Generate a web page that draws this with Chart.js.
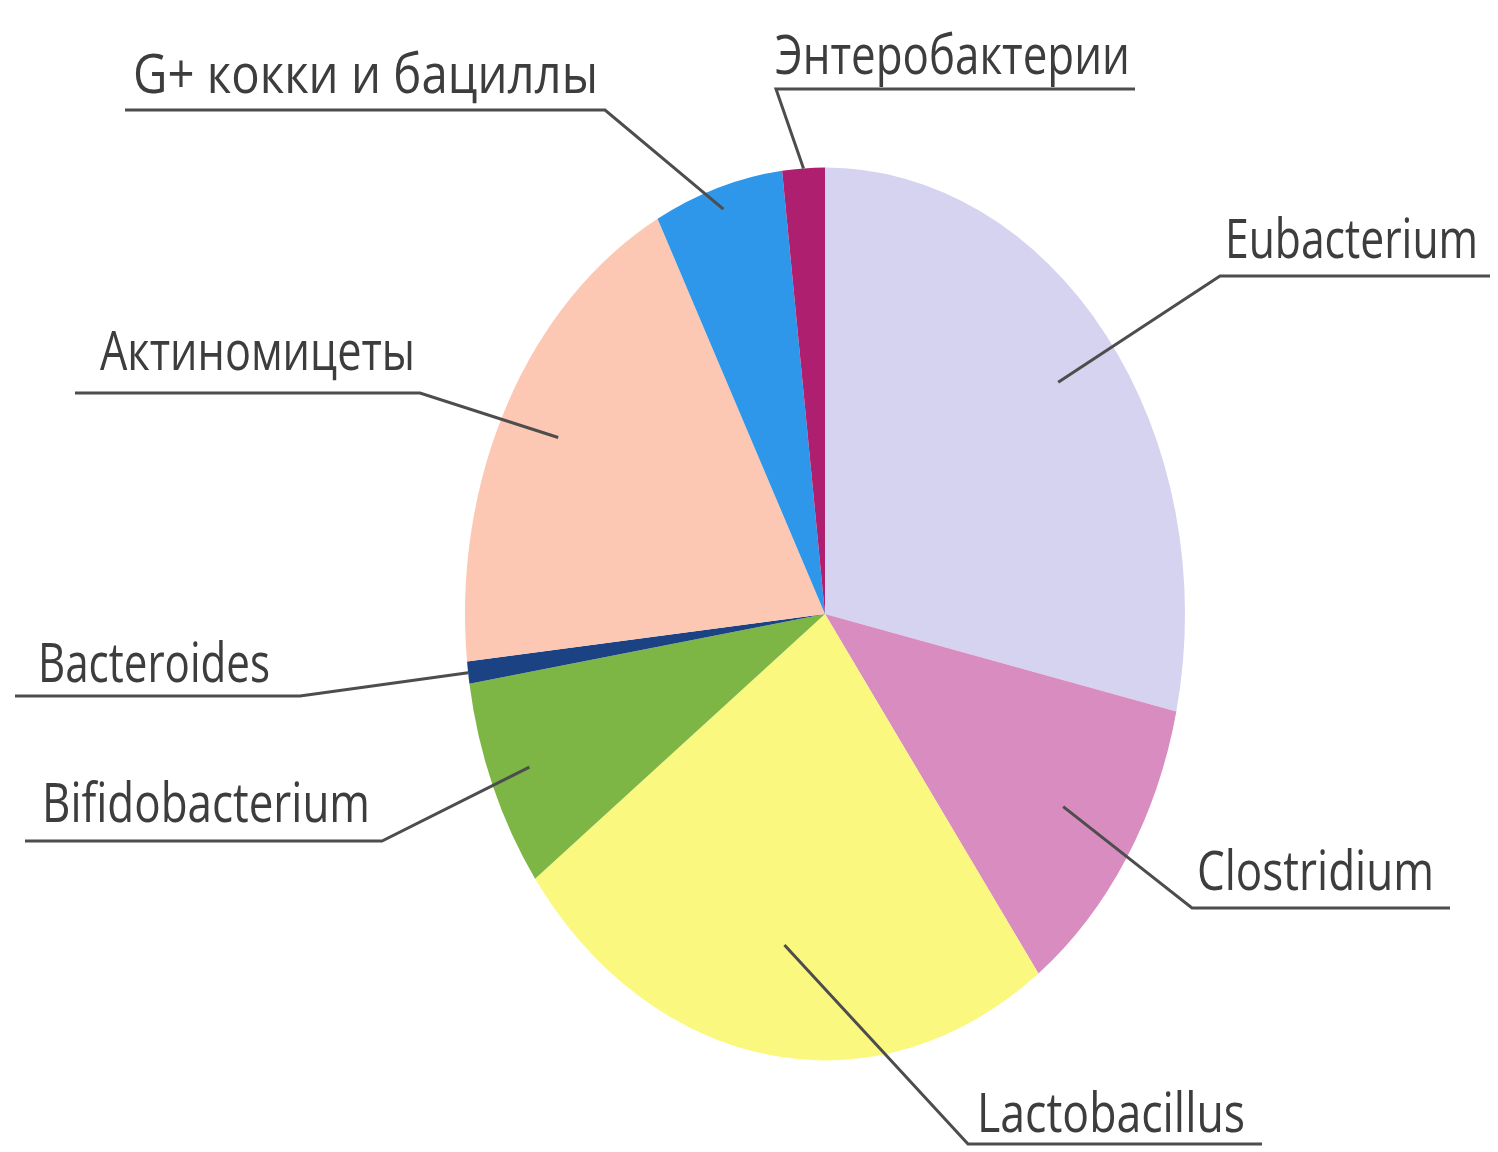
<!DOCTYPE html>
<html>
<head>
<meta charset="utf-8">
<script src="https://cdn.jsdelivr.net/npm/chart.js@4/dist/chart.umd.min.js"></script>
<style>
    html, body { margin: 0; padding: 0; background: #ffffff; }
    #wrap { position: relative; width: 1498px; height: 1152px; }
</style>
</head>
<body>
<div id="wrap"><canvas id="pie-chart"></canvas></div>
<script>
// shares (percent), clockwise from 12 o'clock
const categories = ['Eubacterium', 'Clostridium', 'Lactobacillus', 'Bifidobacterium',
    'Bacteroides', 'Актиномицеты', 'G+ кокки и бациллы', 'Энтеробактерии'];
const shares = [28.5, 11.4, 25, 7.6, 0.8, 19, 5.8, 1.9];
const sliceColors = ['#d6d3f0', '#d98cc0', '#fbf87f', '#7db644', '#1b4383', '#fcc8b3', '#2f97ea', '#ae1f6f'];

// label placement: text start, text width, baseline, underline y + extent, leader depth into slice
const labelLayout = [
    { x: 1225, w: 253, base: 258, lineY: 276, x0: 1220, x1: 1490, side: 'right', depth: 0.83 },
    { x: 1197, w: 237, base: 890, lineY: 908, x0: 1192, x1: 1450, side: 'right', depth: 0.79 },
    { x: 977, w: 268, base: 1132, lineY: 1144, x0: 968, x1: 1262, side: 'right', depth: 0.75 },
    { x: 42, w: 328, base: 822, lineY: 841, x0: 25, x1: 382, side: 'left', depth: 0.89 },
    { x: 38, w: 232, base: 682, lineY: 696, x0: 15, x1: 300, side: 'left', depth: 1.0 },
    { x: 100, w: 315, base: 370, lineY: 393, x0: 75, x1: 420, side: 'left', depth: 0.84 },
    { x: 133, w: 465, base: 93, lineY: 110, x0: 125, x1: 605, side: 'left', depth: 0.95 },
    { x: 775, w: 355, base: 74, lineY: 89, x0: 776, x1: 1135, side: 'right', depth: 1.0 }
];

// the picture's pie is an upright ellipse
const stretchY = 1.24;

const ellipsePlugin = {
    id: 'ellipse',
    beforeDatasetsDraw(chart) {
        const arc = chart.getDatasetMeta(0).data[0];
        const c = chart.ctx;
        c.save();
        c.translate(arc.x, arc.y);
        c.scale(1, stretchY);
        c.translate(-arc.x, -arc.y);
    },
    afterDatasetsDraw(chart) {
        chart.ctx.restore();
    }
};

const calloutPlugin = {
    id: 'callouts',
    afterDraw(chart) {
        const c = chart.ctx;
        const arcs = chart.getDatasetMeta(0).data;
        c.save();
        c.strokeStyle = '#4d4d4d';
        c.lineWidth = 3;
        c.fillStyle = '#3d3d3d';
        c.font = '54px "Open Sans", "DejaVu Sans", sans-serif';
        c.textBaseline = 'alphabetic';
        arcs.forEach((arc, i) => {
            const lay = labelLayout[i];
            const mid = (arc.startAngle + arc.endAngle) / 2;
            const r = arc.outerRadius * lay.depth;
            const px = arc.x + Math.cos(mid) * r;
            const py = arc.y + Math.sin(mid) * r * stretchY;
            const ex = lay.side === 'left' ? lay.x1 : lay.x0;
            const sx = lay.side === 'left' ? lay.x0 : lay.x1;
            c.beginPath();
            c.moveTo(px, py);
            c.lineTo(ex, lay.lineY);
            c.lineTo(sx, lay.lineY);
            c.stroke();
            c.fillText(categories[i], lay.x, lay.base, lay.w);
        });
        c.restore();
    }
};

new Chart(document.getElementById('pie-chart'), {
    type: 'pie',
    data: {
        labels: categories,
        datasets: [{
            data: shares,
            backgroundColor: sliceColors,
            borderWidth: 0
        }]
    },
    options: {
        responsive: true,
        maintainAspectRatio: false,
        animation: false,
        events: [],
        layout: { padding: { left: 465, right: 313, top: 254, bottom: 178 } },
        plugins: {
            legend: { display: false },
            tooltip: { enabled: false }
        }
    },
    plugins: [ellipsePlugin, calloutPlugin]
});
</script>
</body>
</html>
